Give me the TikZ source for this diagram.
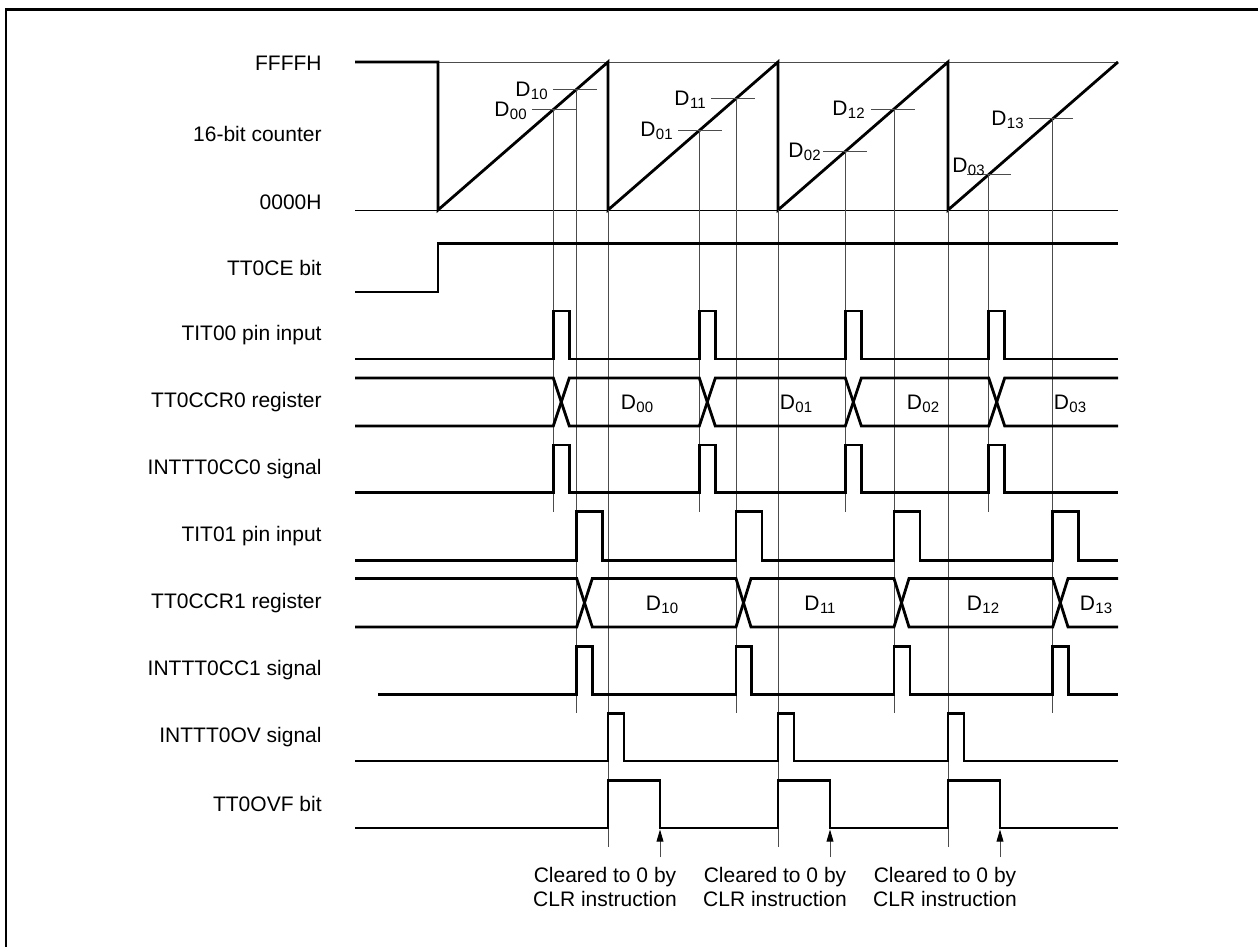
\documentclass[tikz,border=0pt]{standalone}
\usepackage{fontspec}
\setmainfont{Liberation Sans}
\usetikzlibrary{arrows.meta}
\newcommand\Dsb[1]{D\kern0.02em\raisebox{-0.3ex}{\fontsize{7.5}{8}\selectfont #1}}
\begin{document}
\begin{tikzpicture}[x=0.5pt,y=-0.5pt,
  sig/.style={line width=1.4pt, line join=miter},
  thinline/.style={line width=0.5pt, black},
  guide/.style={line width=0.45pt, black!70},
  lbl/.style={anchor=east, inner sep=0pt, font=\fontsize{10.5}{12.6}\selectfont},
  dl/.style={inner sep=0pt, font=\fontsize{10.5}{12.6}\selectfont},
  note/.style={anchor=base, inner sep=0pt, font=\fontsize{10.5}{12.6}\selectfont},
  clrarrow/.style={line width=0.45pt, black!70, -{Triangle[length=6pt,width=3.4pt,black]}}]
\useasboundingbox (0,0) rectangle (1258,947);
% frame
\draw[line width=1.4pt] (6,947) -- (6,9.5) -- (1258,9.5);

% row labels
\node[lbl] (lF) at (322,63) {FFFFH};
\node[lbl] (lC) at (322,134) {16-bit counter};
\node[lbl] (l0) at (322,202) {0000H};
\node[lbl] (lCE) at (322,268) {TT0CE bit};
\node[lbl] (lT0) at (322,335) {TIT00 pin input};
\node[lbl] (lR0) at (322,402) {TT0CCR0 register};
\node[lbl] (lI0) at (322,469) {INTTT0CC0 signal};
\node[lbl] (lT1) at (322,536) {TIT01 pin input};
\node[lbl] (lR1) at (322,603) {TT0CCR1 register};
\node[lbl] (lI1) at (322,670) {INTTT0CC1 signal};
\node[lbl] (lOV) at (322,737) {INTTT0OV signal};
\node[lbl] (lOF) at (322,804) {TT0OVF bit};

% counter
\draw[guide] (438,62) -- (1118,62);
\draw[thinline] (355,210) -- (1118,210);
\draw[sig] (355,62) -- (438,62) -- (438,210) -- (608,62) -- (608,210) -- (778,62) -- (778,210) -- (948,62) -- (948,210) -- (1118,62);

% capture points
\coordinate (c00) at (553.3,109.6);
\coordinate (c10) at (576.7,89.3);
\coordinate (c01) at (699.3,130.5);
\coordinate (c11) at (736,98.6);
\coordinate (c02) at (845.3,151.4);
\coordinate (c12) at (894,109);
\coordinate (c03) at (988.7,174.6);
\coordinate (c13) at (1052.7,118.8);

% ticks
\draw[guide] (553,89.3) -- (597,89.3);
\draw[guide] (532,109.6) -- (576,109.6);
\draw[guide] (711,98.6) -- (755,98.6);
\draw[guide] (678,130.5) -- (722,130.5);
\draw[guide] (871,109) -- (915,109);
\draw[guide] (823,151.4) -- (867,151.4);
\draw[guide] (1029,118.8) -- (1073,118.8);
\draw[guide] (967,174.6) -- (1011,174.6);

% tick labels
\node[dl,anchor=east] (t10) at (548,91) {\Dsb{10}};
\node[dl,anchor=east] (t00) at (527,111) {\Dsb{00}};
\node[dl,anchor=east] (t11) at (706,100) {\Dsb{11}};
\node[dl,anchor=east] (t01) at (673,131) {\Dsb{01}};
\node[dl,anchor=east] (t12) at (865,110) {\Dsb{12}};
\node[dl,anchor=east] (t02) at (821,152) {\Dsb{02}};
\node[dl,anchor=east] (t13) at (1024,120) {\Dsb{13}};
\node[dl,anchor=base east] (t03) at (985,172) {\Dsb{03}};

% vertical guides
\coordinate (e00) at (553.3,512);
\coordinate (e01) at (699.3,512);
\coordinate (e02) at (845.3,512);
\coordinate (e03) at (988.7,512);
\coordinate (e10) at (576.7,713);
\coordinate (e11) at (736,713);
\coordinate (e12) at (894,713);
\coordinate (e13) at (1052.7,713);
\foreach \k in {00,01,02,03,10,11,12,13} \draw[guide] (c\k) -- (e\k);
\foreach \o [count=\i] in {608,778,948} {
  \coordinate (ovt\i) at (\o,210);
  \coordinate (ovb\i) at (\o,847);
  \draw[guide] (ovt\i) -- (ovb\i);
}

% TT0CE
\draw[sig] (355,292) -- (438,292) -- (438,243.5) -- (1118,243.5);

% TIT00
\draw[sig] (355,359) -| (553.3,311) -| (569.3,359) -| (699.3,311) -| (715.3,359) -| (845.3,311) -| (861.3,359) -| (988.7,311) -| (1004.7,359) -- (1118,359);

% TT0CCR0
\draw[sig] (355,378) -- (553.3,378) -- (569.3,426) -- (699.3,426) -- (715.3,378) -- (845.3,378) -- (861.3,426) -- (988.7,426) -- (1004.7,378) -- (1118,378);
\draw[sig] (355,426) -- (553.3,426) -- (569.3,378) -- (699.3,378) -- (715.3,426) -- (845.3,426) -- (861.3,378) -- (988.7,378) -- (1004.7,426) -- (1118,426);
\node[dl] (r00) at (637,404) {\Dsb{00}};
\node[dl] (r01) at (796,404) {\Dsb{01}};
\node[dl] (r02) at (923,404) {\Dsb{02}};
\node[dl] (r03) at (1070,404) {\Dsb{03}};

% INTTT0CC0
\draw[sig] (355,492.5) -| (553.3,445) -| (569.3,492.5) -| (699.3,445) -| (715.3,492.5) -| (845.3,445) -| (861.3,492.5) -| (988.7,445) -| (1004.7,492.5) -- (1118,492.5);

% TIT01
\draw[sig] (355,560.5) -| (576.7,511.5) -| (602.7,560.5) -| (736,511.5) -| (762,560.5) -| (894,511.5) -| (920,560.5) -| (1052.7,511.5) -| (1078.7,560.5) -- (1118,560.5);

% TT0CCR1
\draw[sig] (355,578.5) -- (576.7,578.5) -- (592.3,627) -- (736,627) -- (751,578.5) -- (894,578.5) -- (909,627) -- (1052.7,627) -- (1068,578.5) -- (1118,578.5);
\draw[sig] (355,627) -- (576.7,627) -- (592.3,578.5) -- (736,578.5) -- (751,627) -- (894,627) -- (909,578.5) -- (1052.7,578.5) -- (1068,627) -- (1118,627);
\node[dl] (r10) at (662,605) {\Dsb{10}};
\node[dl] (r11) at (820,605) {\Dsb{11}};
\node[dl] (r12) at (983,605) {\Dsb{12}};
\node[dl] (r13) at (1096,605) {\Dsb{13}};

% INTTT0CC1
\draw[sig] (378,694.5) -| (576.7,646.5) -| (592.3,694.5) -| (736,646.5) -| (751.7,694.5) -| (894,646.5) -| (910,694.5) -| (1052.7,646.5) -| (1068.7,694.5) -- (1118,694.5);

% INTTT0OV
\draw[sig] (355,761) -| (608,713.5) -| (624,761) -| (778,713.5) -| (794,761) -| (948,713.5) -| (964,761) -- (1118,761);

% TT0OVF
\draw[sig] (355,828) -| (608,780.5) -| (660,828) -| (778,780.5) -| (830,828) -| (948,780.5) -| (1000,828) -- (1118,828);

% clear arrows and notes
\foreach \o [count=\i] in {608,778,948} {
  \coordinate (as\i) at (\o+52,857);
  \coordinate (ae\i) at (\o+52,829.5);
  \draw[clrarrow] (as\i) -- (ae\i);
  \node[note] (na\i) at (\o-3,882) {Cleared to 0 by};
  \node[note] (nb\i) at (\o-3,906) {CLR instruction};
}
\end{tikzpicture}
\end{document}
